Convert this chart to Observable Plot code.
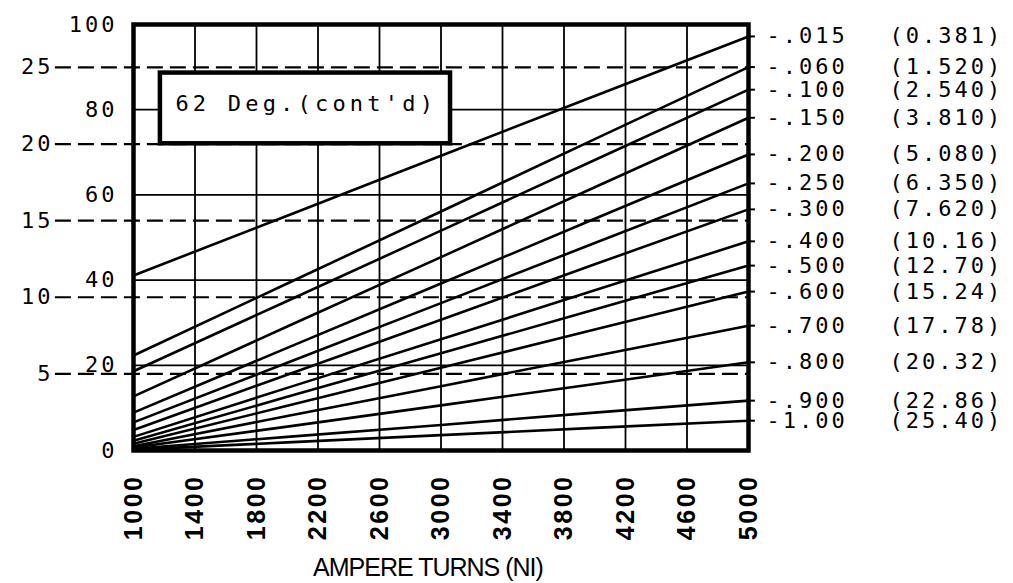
<!DOCTYPE html>
<html>
<head>
<meta charset="utf-8">
<script src="https://cdn.jsdelivr.net/npm/d3@7"></script>
<script src="https://cdn.jsdelivr.net/npm/@observablehq/plot@0.6"></script>
<style>
  html, body { margin: 0; padding: 0; background: #fff; }
  #chart svg { display: block; }
</style>
</head>
<body>
<div id="chart"></div>
<script>
// ---- data ----
const ampereTurns = [1000, 2000, 3000, 4000, 5000];
const xTicks = [1000, 1400, 1800, 2200, 2600, 3000, 3400, 3800, 4200, 4600, 5000];
const ozTicks = [0, 20, 40, 60, 80, 100];
const ozGrid = [20, 40, 60, 80];
const newtonTicks = [5, 10, 15, 20, 25];
const ozPerNewton = 3.5969;
const strokeIn = [".015", ".060", ".100", ".150", ".200", ".250", ".300", ".400", ".500", ".600", ".700", ".800", ".900", "1.00"];
const strokeMm = ["(0.381)", "(1.520)", "(2.540)", "(3.810)", "(5.080)", "(6.350)", "(7.620)", "(10.16)", "(12.70)", "(15.24)", "(17.78)", "(20.32)", "(22.86)", "(25.40)"];

// force (oz) at each ampereTurns value, one array per stroke
const f015 = [41.1, 55.1, 69.2, 83.2, 97.2];
const f060 = [22.3, 39.2, 56.1, 73.1, 90.0];
const f100 = [18.6, 35.1, 51.6, 68.2, 84.7];
const f150 = [12.7, 29.1, 45.4, 61.8, 78.1];
const f200 = [8.9, 24.1, 39.2, 54.4, 69.5];
const f250 = [6.6, 20.6, 34.6, 48.7, 62.7];
const f300 = [4.8, 17.8, 30.7, 43.7, 56.6];
const f400 = [3.2, 14.7, 26.1, 37.6, 49.1];
const f500 = [2.3, 12.6, 22.8, 33.1, 43.4];
const f600 = [1.6, 10.5, 19.4, 28.4, 37.3];
const f700 = [1.0, 8.1, 15.1, 22.2, 29.3];
const f800 = [0.7, 5.6, 10.6, 15.6, 20.7];
const f900 = [0.4, 3.2, 6.0, 8.9, 11.7];
const f1000 = [0.2, 1.9, 3.6, 5.3, 7.0];
const forceSeries = [f015, f060, f100, f150, f200, f250, f300, f400, f500, f600, f700, f800, f900, f1000];

const boxNote = [{text: "62 Deg.(cont'd)", x1: 1175, x2: 3062, y1: 72.0, y2: 88.6}];
const xTitle = "AMPERE TURNS (NI)";
const newtonRuleStart = 492;   // dashed newton lines start left of the frame
const rightTickLen = 45;       // small tick right of the frame (in x units)

// ---- build tables ----
const rows = strokeIn.flatMap((s, i) =>
  ampereTurns.map((at, j) => ({stroke: s, mm: strokeMm[i], at, oz: forceSeries[i][j]}))
);
const ends = rows.filter(r => r.at === ampereTurns[ampereTurns.length - 1]);

const chart = Plot.plot({
  width: 1013,
  height: 583,
  marginLeft: 133,
  marginRight: 265,
  marginTop: 24,
  marginBottom: 133,
  x: {domain: [1000, 5000]},
  y: {domain: [0, 100]},
  style: {fontFamily: "'DejaVu Sans Mono', monospace", fontSize: "22px", background: "#fff", color: "#000", overflow: "visible"},
  marks: [
    Plot.gridX(xTicks, {stroke: "#000", strokeOpacity: 1, strokeWidth: 1.8}),
    Plot.gridY(ozGrid, {stroke: "#000", strokeOpacity: 1, strokeWidth: 1.8}),
    Plot.ruleY(newtonTicks, {y: d => d * ozPerNewton, x1: newtonRuleStart, x2: 5000, stroke: "#000", strokeWidth: 2.2, strokeDasharray: "16,7"}),
    Plot.rect(boxNote, {x1: "x1", x2: "x2", y1: "y1", y2: "y2", fill: "#fff", stroke: "#000", strokeWidth: 4.5}),
    Plot.text(boxNote, {x: "x1", y: d => (d.y1 + d.y2) / 2, text: "text", textAnchor: "start", dx: 15, dy: -4, fontSize: 22}),
    Plot.line(rows, {x: "at", y: "oz", z: "stroke", stroke: "#000", strokeWidth: 2.6}),
    Plot.frame({stroke: "#000", strokeWidth: 4.5}),
    Plot.ruleY(ends, {y: "oz", x1: "at", x2: d => d.at + rightTickLen, stroke: "#000", strokeWidth: 2}),
    Plot.text(ends, {x: "at", y: "oz", text: d => "-" + d.stroke, textAnchor: "start", dx: 18, fontSize: 22}),
    Plot.text(ends, {x: "at", y: "oz", text: "mm", textAnchor: "start", dx: 141, fontSize: 22}),
    Plot.axisY(ozTicks, {tickSize: 0, tickPadding: 16, fontSize: 22, label: null}),
    Plot.text(newtonTicks, {y: d => d * ozPerNewton, text: d => String(d), frameAnchor: "left", textAnchor: "end", dx: -80, fontSize: 22}),
    Plot.axisX(xTicks, {tickRotate: -90, tickSize: 0, tickPadding: 24, textAnchor: "end", tickFormat: d => String(d), label: null, fontSize: 25, fontWeight: "bold", fontFamily: "'Liberation Sans', Arial, sans-serif"}),
    Plot.text([xTitle], {frameAnchor: "bottom", dy: 117, dx: -13, lineAnchor: "middle", fontSize: 25, fontFamily: "'Liberation Sans', Arial, sans-serif"})
  ]
});

d3.select(chart).selectAll("text").style("letter-spacing", "3px");
d3.select(chart).selectAll("g[aria-label='x-axis tick label'] text").style("letter-spacing", "2.5px");
d3.select(chart).selectAll("text").filter(function() { return this.textContent === boxNote[0].text; }).style("letter-spacing", "4.2px");
d3.select(chart).selectAll("text").filter(function() { return this.textContent === xTitle; }).style("letter-spacing", "-1px");
document.getElementById("chart").appendChild(chart);
</script>
</body>
</html>
